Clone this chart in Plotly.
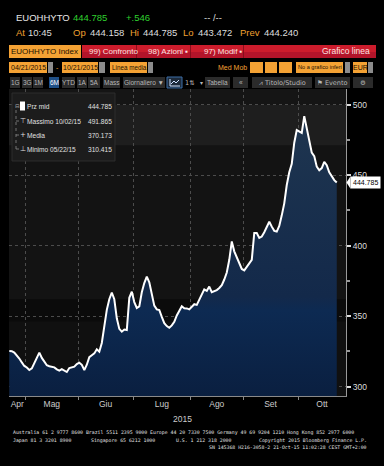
import plotly.graph_objects as go

# ---------------- data ----------------
price = [
    325.3, 325.2, 324.2, 322.4, 320.0, 317.2, 314.7, 313.6, 311.8, 313.0,
    317.0, 321.5, 324.2, 320.4, 318.0, 315.2, 314.5, 314.2, 313.7, 312.3,
    311.4, 312.5, 311.6, 310.415, 313.2, 313.5, 314.2, 316.0, 317.0, 315.5,
    311.8, 315.6, 321.0, 322.3, 323.6, 326.5, 324.8, 331.0, 343.0, 354.5,
    362.0, 366.8, 362.0, 348.5, 341.0, 339.0, 340.5, 340.2, 363.0, 367.4,
    360.0, 355.8, 357.0, 367.0, 373.5, 378.0, 374.0, 366.0, 357.5, 354.8,
    354.4, 349.5, 345.0, 343.0, 341.8, 343.5, 346.0, 350.5, 354.0, 357.0,
    355.6, 355.5, 354.8, 356.7, 358.5, 358.0, 362.0, 366.0, 369.0, 368.0,
    371.0, 367.0, 367.5, 368.5, 370.0, 372.0, 376.0, 381.0, 390.0, 403.0,
    396.0, 392.0, 387.0, 383.5, 382.5, 385.0, 388.0, 390.0, 409.0, 409.0,
    405.5, 406.5, 409.5, 413.0, 417.0, 413.5, 410.5, 410.0, 414.0, 421.5,
    430.0, 443.0, 452.0, 458.0, 473.0, 482.0, 481.0, 480.0, 491.865, 484.0,
    474.5, 466.0, 463.5, 456.0, 453.5, 455.0, 459.5, 457.0, 452.0, 449.0,
    446.5, 444.785,
]
day_index = list(range(len(price)))

month_names = ["Apr", "Mag", "Giu", "Lug", "Ago", "Set", "Ott"]
month_start_idx = [0, 8, 29, 51, 74, 95, 117]   # trading-day index of first session of each month

y_ticks = [300, 350, 400, 450, 500]
y_minor = [325, 375, 425, 475]

legend_labels = ["Prz mid", "Massimo 10/02/15", "Media", "Minimo 05/22/15"]
legend_values = ["444.785", "491.865", "370.173", "310.415"]

last_value = 444.785

# ---------------- geometry helpers ----------------
W, H = 384, 466
L, R, T, B = 9, 346, 89, 396
X_MIN, X_MAX = -0.13, 134.7
Y_MIN, Y_MAX = 293.4, 511.1

def px(x):
    return (x - L) / (R - L)

def py(y):
    return (B - y) / (B - T)

FONT = "Liberation Sans, Arial, sans-serif"
MONO = "DejaVu Sans Mono, Liberation Mono, monospace"

shapes = []
annotations = []

def rect(x0, y0, x1, y1, color, line=None, layer="above"):
    shapes.append(dict(type="rect", xref="paper", yref="paper",
                       x0=px(x0), x1=px(x1), y0=py(y1), y1=py(y0),
                       fillcolor=color, layer=layer,
                       line=dict(width=0 if line is None else 1, color=line or color)))

def text(x, y, s, color="#dddddd", size=9, anchor="left", family=FONT):
    annotations.append(dict(xref="paper", yref="paper", x=px(x), y=py(y), text=s,
                            showarrow=False, xanchor=anchor, yanchor="middle",
                            borderpad=0, font=dict(color=color, size=size, family=family)))

# ---------------- header ----------------
ORANGE = "#f4a234"
RED = "#cc1c2c"
GREEN = "#2fd12f"
LABEL = "#f0a030"
HS = 9.5
ROW1, ROW2 = 18, 33

text(15, ROW1, "EUOHHYTO", "#e6e6e6", HS)
text(72, ROW1, "444.785", GREEN, HS)
text(125, ROW1, "+.546", GREEN, HS)
text(203, ROW1, "-- /--", "#dddddd", HS)

text(15, ROW2, "At", LABEL, HS)
text(27, ROW2, "10:45", "#dddddd", HS)
for lab, vx, val in [("Op", 89, "444.158"), ("Hi", 142, "444.785"),
                     ("Lo", 197, "443.472"), ("Prev", 263, "444.240")]:
    text(vx - 2, ROW2, lab, LABEL, HS, anchor="right")
    text(vx, ROW2, val, "#dddddd", HS)

# orange + red bar
rect(9, 45, 81, 58, ORANGE)
text(10, 51.5, "EUOHHYTO Index", "#1a1000", 8)
rect(82, 45, 376, 58, RED)
rect(82, 52, 376, 58, "#b3142a")
for sx in [136, 190, 243]:
    rect(sx, 45, sx + 0.8, 58, "#7a0c18")
text(88, 51.5, "99) Confronto", "#fbe3e3", 8)
text(147, 51.5, "98) Azioni ▪", "#fbe3e3", 8)
text(203, 51.5, "97) Modif ▪", "#fbe3e3", 8)
text(371, 51.5, "Grafico linea", "#fbe3e3", 8.5, anchor="right")

# second row: orange inputs
rect(9, 62, 47, 73, ORANGE)
text(28, 67.5, "04/21/2015", "#1a1000", 7, anchor="center")
rect(48, 62, 53, 73, "#8c8c8c")
text(57, 67.5, "-", ORANGE, 7, anchor="center")
rect(62, 62, 98, 73, ORANGE)
text(80, 67.5, "10/21/2015", "#1a1000", 7, anchor="center")
rect(99, 62, 105, 73, "#8c8c8c")
rect(110, 62, 147, 73, ORANGE)
text(111, 67.5, "Linea media", "#1a1000", 6.3)
rect(148, 62, 153, 73, "#8c8c8c")
text(248, 67.5, "Med Mob", ORANGE, 7, anchor="right")
for bx0, bx1 in [(250, 263), (265, 277), (279, 292)]:
    rect(bx0, 62, bx1, 73, ORANGE)
rect(296, 62, 343, 73, ORANGE)
text(297, 67.5, "No a grafico inferi", "#1a1000", 5.6)
rect(345, 62, 350, 73, "#8c8c8c")
rect(353, 62, 367, 73, ORANGE)
text(360, 67.5, "EUR", "#1a1000", 7, anchor="center")
rect(368, 62, 373, 73, "#8c8c8c")

# third row: period buttons
BTN = "#2b2b2b"
BTXT = "#b8b8b8"
buttons = [(10, 20, "1G"), (22, 32, "3G"), (33, 43, "1M"), (49, 59, "6M"),
           (62, 75, "YTD"), (77, 87, "1A"), (88, 100, "5A"), (103, 120, "Mass"),
           (123, 165, "Giornaliero ▼"), (205, 230, "Tabella"), (233, 248, "«"),
           (252, 312, "⩘ Titolo/Studio"), (315, 350, "⚑ Evento"), (353, 373, "⚙")]
for bx0, bx1, lab in buttons:
    sel = lab == "6M"
    rect(bx0, 77, bx1, 88, "#1f4f86" if sel else BTN)
    text((bx0 + bx1) / 2, 82.5, lab, "#ffffff" if sel else BTXT, 6.5, anchor="center",
         family=FONT if lab not in ("⚙", "⩘ Titolo/Studio", "⚑ Evento") else "DejaVu Sans, " + FONT)
rect(167, 77, 182, 88, "#1d2a3a", line="#3d6ea8")
shapes.append(dict(type="path", xref="paper", yref="paper",
                   path=f"M {px(170)},{py(86)} L {px(170)},{py(79)} M {px(170)},{py(86)} L {px(180)},{py(86)} "
                        f"M {px(171)},{py(84)} L {px(174)},{py(81)} L {px(176)},{py(83)} L {px(179)},{py(80)}",
                   line=dict(color="#cfe2ff", width=1)))
text(190, 82.5, "1⇅", BTXT, 6.5, anchor="center", family="DejaVu Sans")
text(201, 82.5, "▾", BTXT, 6, anchor="center", family="DejaVu Sans")

# ---------------- chart background bands ----------------
bands = [(500, 511.1, "#151515"), (471, 500, "#1e1e1e"), (362, 471, "#131313"),
         (346, 362, "#0b0b0b"), (293.4, 346, "#101010")]
for y0, y1, c in bands:
    shapes.append(dict(type="rect", xref="paper", yref="y", x0=0, x1=1, y0=y0, y1=y1,
                       fillcolor=c, line=dict(width=0), layer="below"))

# ---------------- legend box ----------------
rect(12, 93, 115, 161, "#1c1c1c", line="#2c2c2c")
rows_y = [106, 121, 135, 149]
rect(20, 101.5, 25, 110.5, "#ffffff")
shapes.append(dict(type="path", xref="paper", yref="paper",
                   path=f"M {px(16)},{py(110)} L {px(16)},{py(149)} "
                        f"M {px(16)},{py(121)} L {px(19)},{py(121)} "
                        f"M {px(16)},{py(135)} L {px(19)},{py(135)} "
                        f"M {px(16)},{py(149)} L {px(19)},{py(149)}",
                   line=dict(color="#8a8a8a", width=0.8, dash="dot")))
text(14, 106, "⊟", "#aaaaaa", 5.5, family="DejaVu Sans")
text(19, 121, "⊤", "#dddddd", 7, family="DejaVu Sans")
text(19, 135, "+", "#dddddd", 7, family="DejaVu Sans")
text(19, 149, "⊥", "#dddddd", 7, family="DejaVu Sans")
for yy, lab, val in zip(rows_y, legend_labels, legend_values):
    text(26, yy, lab, "#e0e0e0", 6.6)
    text(113, yy, val, "#e0e0e0", 6.6, anchor="right")

# ---------------- last value tag ----------------
annotations.append(dict(xref="paper", yref="y", x=px(350), y=last_value, text="444.785",
                        showarrow=False, xanchor="left", yanchor="middle",
                        bgcolor="#ffffff", borderpad=2,
                        font=dict(color="#000000", size=7, family=FONT)))
shapes.append(dict(type="path", xref="paper", yref="y",
                   path=f"M {px(346.5)},{last_value} L {px(350.5)},{last_value + 4.5} L {px(350.5)},{last_value - 4.5} Z",
                   fillcolor="#ffffff", line=dict(width=0)))

# ---------------- x axis month positions ----------------
boundaries = [s - 1.5 for s in month_start_idx[1:]]
edges = [X_MIN] + boundaries + [X_MAX]
label_pos = [(edges[i] + edges[i + 1]) / 2 for i in range(len(month_names))]

text(182, 419, "2015", "#cccccc", 8.5, anchor="center")

# ---------------- footer ----------------
FS = 4.85
text(12, 432, "Australia 61 2 9777 8600 Brazil 5511 2395 9000 Europe 44 20 7330 7500 Germany 49 69 9204 1210 Hong Kong 852 2977 6000",
     "#e0e0e0", FS, family=MONO)
text(12, 440, "Japan 81 3 3201 8900", "#e0e0e0", FS, family=MONO)
text(90, 440, "Singapore 65 6212 1000", "#e0e0e0", FS, family=MONO)
text(175, 440, "U.S. 1 212 318 2000", "#e0e0e0", FS, family=MONO)
text(368, 440, "Copyright 2015 Bloomberg Finance L.P.", "#e0e0e0", FS, anchor="right", family=MONO)
text(368, 447, "SN 145368 H216-3058-2 21-Oct-15 11:02:28 CEST GMT+2:00", "#e0e0e0", FS, anchor="right", family=MONO)

# ---------------- figure ----------------
fig = go.Figure()
fig.add_trace(go.Scatter(
    x=day_index, y=price, mode="lines",
    line=dict(color="#ffffff", width=2),
    fill="tozeroy",
    fillgradient=dict(type="vertical",
                      colorscale=[[0, "#0a1f40"], [0.3, "#0d2a52"], [0.35, "#13294a"], [1, "#1f3650"]],
                      start=Y_MIN, stop=495),
    hoverinfo="skip",
))

fig.update_layout(
    width=W, height=H, autosize=False,
    margin=dict(l=L, r=W - R, t=T, b=H - B, autoexpand=False),
    paper_bgcolor="#000000", plot_bgcolor="#131313",
    showlegend=False,
    shapes=shapes, annotations=annotations,
    font=dict(family=FONT, color="#cccccc"),
)
fig.update_xaxes(
    range=[X_MIN, X_MAX], tickmode="array", tickvals=label_pos, ticktext=month_names,
    ticks="", showgrid=False, zeroline=False,
    showline=True, linecolor="#8a8a8a", linewidth=1,
    tickfont=dict(size=8.5, color="#cccccc", family=FONT),
    minor=dict(tickmode="array", tickvals=boundaries, ticks="outside", ticklen=3,
               tickcolor="#888888", showgrid=True, gridcolor="#4c4c4c", griddash="dot", gridwidth=1),
)
fig.update_yaxes(
    range=[Y_MIN, Y_MAX], side="right", tickmode="array", tickvals=y_ticks,
    ticktext=[str(v) for v in y_ticks],
    ticks="outside", ticklen=4, tickwidth=2, tickcolor="#dddddd",
    tickfont=dict(size=8.5, color="#dddddd", family=FONT),
    showgrid=True, gridcolor="#4c4c4c", griddash="dot", gridwidth=1, zeroline=False,
    showline=True, linecolor="#9a9a9a", linewidth=1,
    minor=dict(tickmode="array", tickvals=y_minor, ticks="outside", ticklen=3,
               tickcolor="#999999", showgrid=False),
)

fig.write_html("out.html", config={"displayModeBar": False},
               post_script="document.body.style.margin='0';document.body.style.overflow='hidden';")
